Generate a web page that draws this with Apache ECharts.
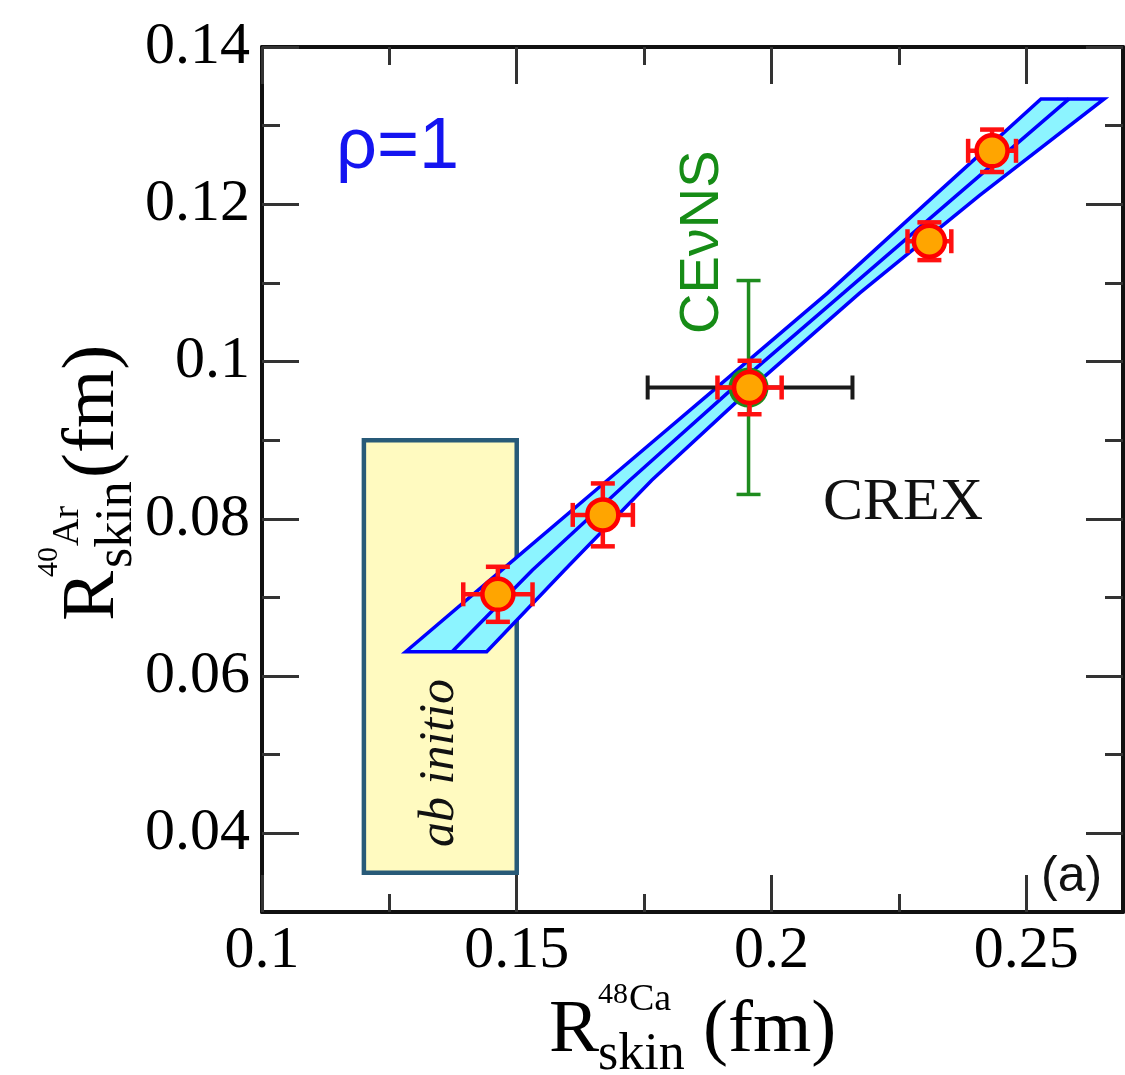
<!DOCTYPE html>
<html><head><meta charset="utf-8">
<script src="https://cdn.jsdelivr.net/npm/echarts@6/dist/echarts.min.js"></script>
<style>html,body{margin:0;padding:0;background:#fff}#c{width:1125px;height:1075px}</style>
</head><body><div id="c"></div>
<script>
// ---- data ----
const xTickMajor = [0.1, 0.15, 0.2, 0.25];
const xTickLabels = ['0.1', '0.15', '0.2', '0.25'];
const xTickMinor = [0.125, 0.175, 0.225];
const yTickMajor = [0.04, 0.06, 0.08, 0.1, 0.12, 0.14];
const yTickLabels = ['0.04', '0.06', '0.08', '0.1', '0.12', '0.14'];
const yTickMinor = [0.05, 0.07, 0.09, 0.11, 0.13];

const bandY = [0.0631, 0.0735, 0.0849, 0.0970, 0.1087, 0.1211, 0.1334];
const bandLeftX = [0.1282, 0.1471, 0.1678, 0.1898, 0.2110, 0.2320, 0.2529];
const bandRightX = [0.1441, 0.1594, 0.1765, 0.1967, 0.2173, 0.2408, 0.2653];
const bandCenterX = [0.1373, 0.1531, 0.1722, 0.1931, 0.2141, 0.2363, 0.2584];

const pointX = [0.1463, 0.1669, 0.1957, 0.2310, 0.2433];
const pointY = [0.0704, 0.0805, 0.0967, 0.1153, 0.1268];
const pointXErr = [0.0068, 0.0059, 0.0063, 0.0043, 0.0047];
const pointYErr = [0.0035, 0.0040, 0.0034, 0.0024, 0.0027];

const crexPoint = [0.1958, 0.0967];
const crexXErr = 0.0201;
const cevnsPoint = [0.1955, 0.0967];
const cevnsYRange = [0.0831, 0.1103];
const abInitioX = [0.12, 0.15];
const abInitioY = [0.035, 0.09];

// ---- helpers ----
const SERIF = 'Liberation Serif';
const SANS = 'Liberation Sans';
function hText(left, baseline, text, size, family, color, style) {
  return { type: 'text', x: left, y: baseline - 0.31 * size, z: 100,
    style: { text: text, fontSize: size, fontFamily: family, fontStyle: style || 'normal',
      fill: color || '#000', align: 'left', verticalAlign: 'middle' } };
}
function vText(baselineX, startY, text, size, family, color, style) {
  return { type: 'text', x: baselineX - 0.31 * size, y: startY, rotation: Math.PI / 2, z: 100,
    style: { text: text, fontSize: size, fontFamily: family, fontStyle: style || 'normal',
      fill: color || '#000', align: 'left', verticalAlign: 'middle' } };
}
function labelFmt(vals, labels) {
  return function (v) {
    for (let i = 0; i < vals.length; i++) if (Math.abs(v - vals[i]) < 1e-9) return labels[i];
    return '';
  };
}
const tickStyle = { color: '#333', width: 3 };
const lineStyleAx = { color: '#111', width: 4 };
function xAx(pos, major, withLabel) {
  return {
    type: 'value', position: pos, min: 0.1, max: 0.269, gridIndex: 0,
    axisLine: { show: major, onZero: false, lineStyle: lineStyleAx },
    axisTick: { show: true, inside: true, length: major ? 37 : 18, lineStyle: tickStyle,
      customValues: major ? xTickMajor : xTickMinor },
    axisLabel: withLabel ? { show: true, customValues: xTickMajor, formatter: labelFmt(xTickMajor, xTickLabels),
      margin: 9, fontFamily: SERIF, fontSize: 60, color: '#000' } : { show: false },
    splitLine: { show: false }
  };
}
function yAx(pos, major, withLabel) {
  return {
    type: 'value', position: pos, min: 0.03, max: 0.14, gridIndex: 0,
    axisLine: { show: major, onZero: false, lineStyle: lineStyleAx },
    axisTick: { show: true, inside: true, length: major ? 37 : 18, lineStyle: tickStyle,
      customValues: major ? yTickMajor : yTickMinor },
    axisLabel: withLabel ? { show: true, customValues: yTickMajor, formatter: labelFmt(yTickMajor, yTickLabels),
      margin: 12, fontFamily: SERIF, fontSize: 60, color: '#000' } : { show: false },
    splitLine: { show: false }
  };
}

const chart = echarts.init(document.getElementById('c'), null, { renderer: 'canvas' });

const errData = pointX.map((x, i) => [x, pointY[i], pointXErr[i], pointYErr[i]]);

function errBarItem(api, x, y, xe, ye, color, width, cap) {
  const ch = [];
  const st = { stroke: color, lineWidth: width };
  if (xe > 0) {
    const a = api.coord([x - xe, y]), b = api.coord([x + xe, y]);
    ch.push({ type: 'line', shape: { x1: a[0], y1: a[1], x2: b[0], y2: b[1] }, style: st });
    ch.push({ type: 'line', shape: { x1: a[0], y1: a[1] - cap, x2: a[0], y2: a[1] + cap }, style: st });
    ch.push({ type: 'line', shape: { x1: b[0], y1: b[1] - cap, x2: b[0], y2: b[1] + cap }, style: st });
  }
  if (ye > 0) {
    const a = api.coord([x, y - ye]), b = api.coord([x, y + ye]);
    ch.push({ type: 'line', shape: { x1: a[0], y1: a[1], x2: b[0], y2: b[1] }, style: st });
    ch.push({ type: 'line', shape: { x1: a[0] - cap, y1: a[1], x2: a[0] + cap, y2: a[1] }, style: st });
    ch.push({ type: 'line', shape: { x1: b[0] - cap, y1: b[1], x2: b[0] + cap, y2: b[1] }, style: st });
  }
  return { type: 'group', children: ch };
}

const option = {
  animation: false,
  backgroundColor: '#fff',
  grid: { left: 262, right: 2, top: 47, bottom: 163, containLabel: false },
  xAxis: [xAx('bottom', true, true), xAx('bottom', false, false), xAx('top', true, false), xAx('top', false, false)],
  yAxis: [yAx('left', true, true), yAx('left', false, false), yAx('right', true, false), yAx('right', false, false)],
  series: [
    { // ab initio box
      type: 'custom', z: 1, data: [[abInitioX[0], abInitioY[0], abInitioX[1], abInitioY[1]]],
      renderItem: function (params, api) {
        const p1 = api.coord([api.value(0), api.value(3)]);
        const p2 = api.coord([api.value(2), api.value(1)]);
        return { type: 'rect', shape: { x: p1[0], y: p1[1], width: p2[0] - p1[0], height: p2[1] - p1[1] },
          style: { fill: '#FFFAC0', stroke: '#285A78', lineWidth: 4.5 } };
      }
    },
    { // band
      type: 'custom', z: 2, data: [[0]],
      renderItem: function (params, api) {
        const pts = [];
        for (let i = 0; i < bandLeftX.length; i++) pts.push(api.coord([bandLeftX[i], bandY[i]]));
        for (let i = bandRightX.length - 1; i >= 0; i--) pts.push(api.coord([bandRightX[i], bandY[i]]));
        return { type: 'polygon', shape: { points: pts },
          style: { fill: '#8CF4FF', stroke: '#0000FF', lineWidth: 3.5, lineJoin: 'miter' } };
      }
    },
    { // band centre
      type: 'line', z: 3, symbol: 'none', data: bandCenterX.map((x, i) => [x, bandY[i]]),
      lineStyle: { color: '#0000FF', width: 3.5 }
    },
    { // CREX and CEvNS error bars
      type: 'custom', z: 4, data: [[crexPoint[0], crexPoint[1], crexXErr, cevnsPoint[0], cevnsYRange[0], cevnsYRange[1]]],
      renderItem: function (params, api) {
        const g1 = errBarItem(api, api.value(0), api.value(1), api.value(2), 0, '#1a1a1a', 4, 12);
        const ym = (api.value(4) + api.value(5)) / 2, ye = (api.value(5) - api.value(4)) / 2;
        const g2 = errBarItem(api, api.value(3), ym, 0, ye, '#1E8C1E', 3.5, 12);
        return { type: 'group', children: [g2, g1] };
      }
    },
    { // green ring for CEvNS point
      type: 'scatter', z: 5, data: [cevnsPoint], symbolSize: 40,
      itemStyle: { color: '#1E8C1E', opacity: 1 }
    },
    { // red error bars
      type: 'custom', z: 6, data: errData,
      renderItem: function (params, api) {
        return errBarItem(api, api.value(0), api.value(1), api.value(2), api.value(3), '#FF1010', 4.5, 12);
      }
    },
    { // points
      type: 'scatter', z: 7, data: pointX.map((x, i) => [x, pointY[i]]), symbolSize: 31,
      itemStyle: { color: '#FFA500', borderColor: '#FF0000', borderWidth: 4.5, opacity: 1 }
    }
  ],
  graphic: [
    hText(336, 170, 'ρ=1', 72, SANS, '#1414F0'),
    hText(823, 522, 'CREX', 60, SERIF, '#111'),
    hText(1041, 893, '(a)', 50, SANS, '#111'),
    vText(720, 334, 'CEνNS', 56, SANS, '#168C16'),
    vText(455, 847, 'ab initio', 50, SERIF, '#111', 'italic'),
    // x axis title
    hText(549, 1055, 'R', 75, SERIF, '#000'),
    hText(598, 1004, '48', 30, SERIF, '#000'),
    hText(629, 1012, 'Ca', 38, SERIF, '#000'),
    hText(598, 1071, 'skin', 52, SERIF, '#000'),
    hText(703, 1055, '(fm)', 75, SERIF, '#000'),
    // y axis title
    vText(117, 621, 'R', 75, SERIF, '#000'),
    vText(58, 577, '40', 30, SERIF, '#000'),
    vText(80, 546, 'Ar', 38, SERIF, '#000'),
    vText(133, 568, 'skin', 52, SERIF, '#000'),
    vText(117, 478, '(fm)', 75, SERIF, '#000')
  ]
};
chart.setOption(option);
</script>
</body></html>
